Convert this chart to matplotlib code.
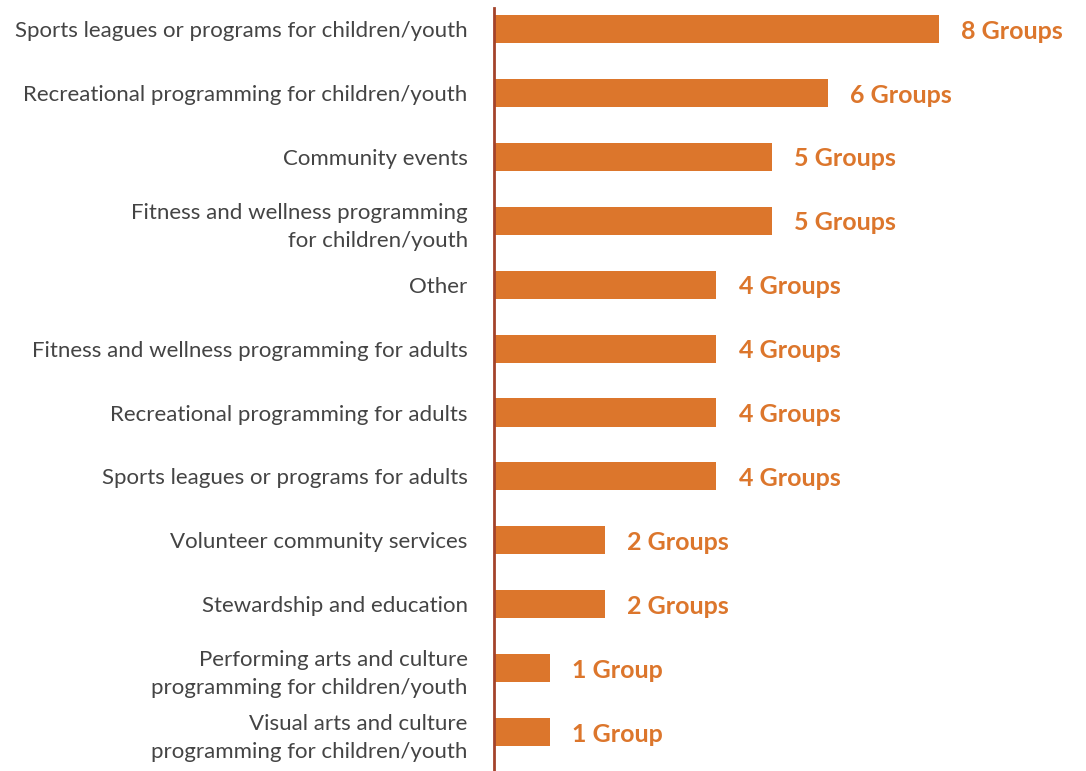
import matplotlib
matplotlib.use("Agg")
import matplotlib.pyplot as plt

# categories, top to bottom
categories = [
    "Sports leagues or programs for children/youth",
    "Recreational programming for children/youth",
    "Community events",
    "Fitness and wellness programming\nfor children/youth",
    "Other",
    "Fitness and wellness programming for adults",
    "Recreational programming for adults",
    "Sports leagues or programs for adults",
    "Volunteer community services",
    "Stewardship and education",
    "Performing arts and culture\nprogramming for children/youth",
    "Visual arts and culture\nprogramming for children/youth",
]
groups = [8, 6, 5, 5, 4, 4, 4, 4, 2, 2, 1, 1]

bar_color = "#DC762C"
axis_color = "#A3432B"
text_color = "#444444"

plt.rcParams['font.family'] = ['Lato', 'DejaVu Sans']

fig = plt.figure(figsize=(10.86, 7.71), dpi=100)
ax = fig.add_axes([0.4549, 0.0, 0.5451, 0.9896])

ypos = list(range(len(categories)))
ax.barh(ypos, groups, height=0.44, color=bar_color)

ax.set_ylim(11.61, -0.33)
ax.set_xlim(0, 10.65)

for y, v in zip(ypos, groups):
    lbl = "%d Group" % v if v == 1 else "%d Groups" % v
    ax.annotate(lbl, (v, y), xytext=(16, 0), textcoords="offset points",
                ha="left", va="center_baseline", color=bar_color, fontsize=18,
                fontweight="bold")

ax.set_yticks(ypos)
ax.set_yticklabels(categories, fontsize=16, color=text_color,
                   linespacing=1.5)
for t in ax.get_yticklabels():
    t.set_va("center_baseline")
ax.tick_params(axis="y", length=0, pad=19)
ax.set_xticks([])

for s in ["top", "right", "bottom"]:
    ax.spines[s].set_visible(False)
ax.spines["left"].set_color(axis_color)
ax.spines["left"].set_linewidth(2)

fig.savefig("out.png", dpi=100)
